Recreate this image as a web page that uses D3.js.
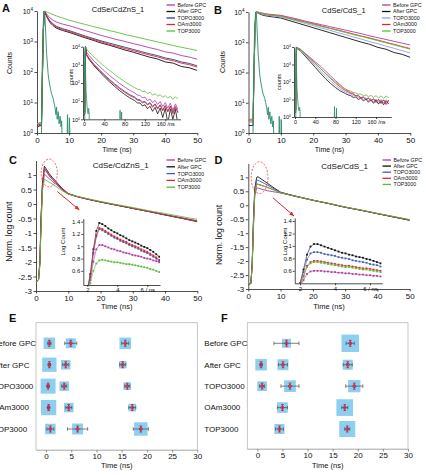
<!DOCTYPE html>
<html>
<head>
<meta charset="utf-8">
<script src="https://cdn.jsdelivr.net/npm/d3@7"></script>
<style>
  html, body { margin: 0; padding: 0; background: #fff; }
  svg { display: block; font-family: "Liberation Sans", Arial, Helvetica, sans-serif; }
</style>
</head>
<body>
<svg id="fig" width="426" height="475"></svg>
<script>
// ---- data (log10 counts for A/B, normalised log count for C/D) ----
const SERIES = ["Before GPC", "After GPC", "TOPO3000", "OAm3000", "TOP3000"];

// A: CdSe/CdZnS_1, main window (ns)
const T_A = [0, 1.4, 1.7, 2.0, 2.3, 3, 4, 5, 6, 8, 10, 12.5, 15, 17.5, 20, 22.5, 25, 27.5, 30, 32.5, 35, 37.5, 40, 42.5, 45, 47.5, 50];
const A_BEFORE = [0.3, 0.35, 2.0, 3.4, 4.0, 3.90, 3.78, 3.70, 3.64, 3.57, 3.52, 3.44, 3.36, 3.28, 3.20, 3.13, 3.06, 3.00, 2.93, 2.87, 2.80, 2.74, 2.66, 2.62, 2.54, 2.49, 2.42];
const A_AFTER  = [0.2, 0.25, 1.9, 3.4, 4.0, 3.82, 3.63, 3.52, 3.44, 3.36, 3.30, 3.21, 3.12, 3.04, 2.95, 2.88, 2.80, 2.72, 2.65, 2.57, 2.49, 2.43, 2.33, 2.29, 2.18, 2.14, 2.05];
const A_TOPO   = [0.25, 0.3, 1.9, 3.4, 4.0, 3.85, 3.68, 3.58, 3.50, 3.42, 3.36, 3.27, 3.18, 3.10, 3.02, 2.95, 2.88, 2.81, 2.74, 2.67, 2.60, 2.54, 2.46, 2.41, 2.33, 2.28, 2.20];
const A_OAM    = [0.2, 0.28, 1.9, 3.4, 4.0, 3.84, 3.66, 3.55, 3.47, 3.39, 3.33, 3.24, 3.15, 3.07, 2.99, 2.91, 2.84, 2.77, 2.70, 2.63, 2.56, 2.50, 2.42, 2.37, 2.29, 2.24, 2.16];
const A_TOP    = [0.3, 0.35, 2.0, 3.4, 4.0, 3.97, 3.93, 3.88, 3.84, 3.77, 3.70, 3.63, 3.56, 3.49, 3.43, 3.36, 3.30, 3.23, 3.17, 3.11, 3.05, 2.99, 2.93, 2.87, 2.81, 2.76, 2.70];
const T_IRF = [0, 1.3, 1.6, 1.9, 2.2, 2.5, 3.0, 3.5, 4.0, 4.5, 5.0, 5.3, 5.6, 5.9, 6.1, 6.3, 6.6, 6.9, 7.2, 7.5, 7.7, 7.9, 8.2, 9.3, 9.5, 9.7, 9.9, 10.1, 10.4, 10.7, 11];
const A_IRF = [-1, -1, 2.0, 3.5, 4.0, 3.8, 2.6, 1.9, 1.55, 1.3, 1.15, 1.0, 0.85, 0.6, 0.85, 0.45, 0.7, 0.3, 0.55, 0.2, 0.4, -0.5, -1, -1, 0.6, -0.5, -1, 0.5, -0.5, -1, -1];

// A inset (long window)
const T_AI = [0, 1.5, 2.5, 3, 5, 10, 20, 30, 40, 50, 60, 70, 80, 90, 100, 105, 110, 115, 120, 125, 130, 135, 140, 145, 150, 155, 160, 165, 170, 175, 180, 185];
const AI_BEFORE = [0.3, 0.4, 3.6, 4.0, 3.70, 3.52, 3.20, 2.93, 2.67, 2.42, 2.20, 1.98, 1.78, 1.60, 1.45, 1.33, 1.32, 1.18, 1.22, 1.03, 1.12, 0.92, 1.04, 0.82, 0.98, 0.70, 0.92, 0.62, 0.88, 0.50, 0.85, 0.55];
const AI_AFTER  = [0.2, 0.3, 3.6, 4.0, 3.52, 3.30, 2.94, 2.64, 2.34, 2.07, 1.82, 1.58, 1.37, 1.18, 1.03, 0.90, 0.90, 0.74, 0.80, 0.58, 0.72, 0.44, 0.66, 0.30, 0.62, 0.10, 0.60, -0.20, 0.56, 0.00, 0.55, -0.30];
const AI_TOPO   = [0.25, 0.35, 3.6, 4.0, 3.58, 3.36, 3.02, 2.74, 2.46, 2.20, 1.96, 1.74, 1.54, 1.36, 1.22, 1.10, 1.08, 0.95, 0.99, 0.82, 0.92, 0.72, 0.85, 0.62, 0.80, 0.52, 0.76, 0.45, 0.73, 0.38, 0.70, 0.40];
const AI_OAM    = [0.25, 0.35, 3.6, 4.0, 3.55, 3.33, 2.98, 2.69, 2.41, 2.15, 1.91, 1.69, 1.49, 1.31, 1.17, 1.05, 1.04, 0.90, 0.95, 0.78, 0.88, 0.66, 0.82, 0.56, 0.78, 0.46, 0.74, 0.40, 0.71, 0.30, 0.68, 0.35];
const AI_TOP    = [0.3, 0.4, 3.6, 4.0, 3.88, 3.70, 3.43, 3.17, 2.92, 2.70, 2.48, 2.27, 2.08, 1.90, 1.74, 1.66, 1.64, 1.53, 1.55, 1.42, 1.49, 1.33, 1.41, 1.27, 1.36, 1.21, 1.31, 1.16, 1.28, 1.10, 1.24, 1.12];
const T_AIRF = [0, 1.3, 1.9, 2.4, 3.0, 4.0, 5.0, 6.0, 7.0, 8.0, 9.0, 10.0, 11.0, 70, 71, 72, 73, 74, 75, 76];
const AI_IRF = [-1, -1, 3.5, 4.0, 2.6, 1.55, 1.15, 0.7, 0.5, 0.3, 0.6, 0.4, -1, -1, 0.5, -1, -1, 0.4, -1, -1];

// B: CdSe/CdS_1
const B_BEFORE = [0.45, 0.45, 2.0, 3.4, 4.0, 3.99, 3.97, 3.95, 3.93, 3.91, 3.89, 3.83, 3.77, 3.70, 3.64, 3.58, 3.52, 3.46, 3.40, 3.34, 3.28, 3.21, 3.15, 3.09, 3.03, 2.97, 2.91];
const B_AFTER  = [0.25, 0.25, 1.9, 3.4, 4.0, 3.96, 3.91, 3.88, 3.86, 3.83, 3.80, 3.72, 3.64, 3.56, 3.48, 3.40, 3.32, 3.24, 3.16, 3.08, 3.00, 2.93, 2.83, 2.77, 2.66, 2.60, 2.50];
const B_TOPO   = [0.35, 0.35, 1.9, 3.4, 4.0, 3.98, 3.94, 3.91, 3.89, 3.86, 3.84, 3.77, 3.70, 3.62, 3.55, 3.47, 3.40, 3.32, 3.25, 3.17, 3.10, 3.02, 2.95, 2.87, 2.80, 2.72, 2.64];
const B_OAM    = [0.4, 0.4, 2.0, 3.4, 4.0, 3.99, 3.96, 3.93, 3.91, 3.89, 3.87, 3.80, 3.74, 3.67, 3.61, 3.54, 3.47, 3.41, 3.34, 3.27, 3.20, 3.14, 3.07, 3.00, 2.93, 2.86, 2.79];
const B_TOP    = [0.45, 0.45, 2.0, 3.4, 4.0, 3.99, 3.96, 3.93, 3.91, 3.89, 3.86, 3.79, 3.72, 3.66, 3.59, 3.52, 3.46, 3.39, 3.32, 3.25, 3.19, 3.12, 3.05, 2.98, 2.91, 2.84, 2.77];
const B_IRF = [-1, -1, 2.0, 3.5, 4.0, 3.8, 2.6, 1.9, 1.55, 1.3, 1.15, 1.0, 0.85, 0.6, 0.85, 0.45, 0.7, 0.3, 0.55, 0.2, 0.4, -0.5, -1, -1, 0.55, -0.5, -1, 0.45, -0.5, -1, -1];
const BI_BEFORE = [0.45, 0.45, 3.6, 4.0, 3.95, 3.89, 3.64, 3.40, 3.15, 2.91, 2.64, 2.36, 2.08, 1.82, 1.55, 1.50, 1.38, 1.36, 1.22, 1.25, 1.08, 1.16, 0.98, 1.10, 0.90, 1.05, 0.82, 1.00, 0.76, 0.98, 0.70, 0.95];
const BI_AFTER  = [0.25, 0.25, 3.6, 4.0, 3.88, 3.80, 3.48, 3.16, 2.84, 2.51, 2.20, 1.92, 1.68, 1.48, 1.33, 1.26, 1.22, 1.12, 1.14, 1.00, 1.08, 0.92, 1.03, 0.84, 1.00, 0.78, 0.97, 0.74, 0.95, 0.70, 0.93, 0.75];
const BI_TOPO   = [0.35, 0.35, 3.6, 4.0, 3.91, 3.84, 3.55, 3.25, 2.95, 2.64, 2.34, 2.06, 1.81, 1.59, 1.42, 1.36, 1.30, 1.22, 1.20, 1.10, 1.14, 1.01, 1.09, 0.94, 1.06, 0.88, 1.03, 0.84, 1.01, 0.80, 1.00, 0.84];
const BI_OAM    = [0.4, 0.4, 3.6, 4.0, 3.93, 3.87, 3.61, 3.34, 3.07, 2.79, 2.50, 2.21, 1.94, 1.70, 1.50, 1.44, 1.35, 1.30, 1.22, 1.20, 1.10, 1.14, 1.00, 1.08, 0.92, 1.04, 0.86, 1.01, 0.80, 0.98, 0.76, 0.97];
const BI_TOP    = [0.45, 0.45, 3.6, 4.0, 3.93, 3.87, 3.60, 3.32, 3.05, 2.77, 2.50, 2.24, 2.00, 1.78, 1.60, 1.52, 1.48, 1.40, 1.38, 1.30, 1.31, 1.22, 1.26, 1.16, 1.24, 1.12, 1.22, 1.08, 1.21, 1.06, 1.20, 1.10];
const T_BIRF = [0, 1.3, 1.9, 2.4, 3.0, 4.0, 5.0, 6.0, 7.0, 8.0, 9.0, 10.0, 11.0, 77, 78, 79, 81, 82, 83];
const BI_IRF = [-1, -1, 3.5, 4.0, 2.6, 1.6, 1.1, 0.75, 0.45, 0.35, 0.55, 0.3, -1, -1, 0.6, -1, -1, 0.5, -1];

// C / D: normalised log count
const T_C = [0, 0.8, 1.2, 1.6, 2.0, 2.6, 3, 4, 5, 6, 8, 10, 12.5, 15, 17.5, 20, 25, 30, 35, 40, 45, 50];
const C_BEFORE = [-2.7, -2.6, -2.1, -0.6, 0.55, 1.02, 0.99, 0.88, 0.79, 0.70, 0.50, 0.34, 0.26, 0.19, 0.13, 0.07, -0.04, -0.15, -0.26, -0.37, -0.47, -0.58];
const C_AFTER  = [-2.7, -2.6, -2.0, -0.4, 0.70, 1.30, 1.24, 1.06, 0.92, 0.80, 0.55, 0.36, 0.27, 0.20, 0.13, 0.07, -0.04, -0.15, -0.26, -0.38, -0.49, -0.61];
const C_TOPO   = [-2.7, -2.6, -2.0, -0.45, 0.65, 1.20, 1.15, 0.99, 0.86, 0.75, 0.52, 0.35, 0.26, 0.19, 0.13, 0.07, -0.04, -0.15, -0.26, -0.37, -0.49, -0.60];
const C_OAM    = [-2.7, -2.6, -2.0, -0.45, 0.65, 1.22, 1.17, 1.00, 0.87, 0.76, 0.53, 0.35, 0.26, 0.19, 0.13, 0.07, -0.04, -0.15, -0.26, -0.37, -0.48, -0.59];
const C_TOP    = [-2.7, -2.6, -2.1, -0.7, 0.45, 0.85, 0.83, 0.76, 0.69, 0.62, 0.46, 0.34, 0.27, 0.21, 0.15, 0.09, -0.02, -0.12, -0.23, -0.33, -0.43, -0.53];
const T_CI = [2.0, 2.2, 2.4, 2.6, 2.8, 3.0, 3.2, 3.4, 3.6, 3.8, 4.0, 4.2, 4.4, 4.6, 4.8, 5.0, 5.2, 5.4, 5.6, 5.8, 6.0, 6.2, 6.4, 6.6, 6.8];
const CI_BEFORE = [0.25, 0.45, 0.75, 0.95, 1.02, 1.02, 1.00, 0.98, 0.96, 0.95, 0.93, 0.92, 0.90, 0.89, 0.88, 0.86, 0.85, 0.84, 0.83, 0.81, 0.80, 0.79, 0.77, 0.76, 0.74];
const CI_AFTER  = [0.30, 0.55, 0.95, 1.25, 1.38, 1.36, 1.33, 1.29, 1.26, 1.23, 1.21, 1.18, 1.16, 1.13, 1.10, 1.08, 1.06, 1.04, 1.01, 0.99, 0.97, 0.94, 0.91, 0.87, 0.83];
const CI_TOPO   = [0.27, 0.50, 0.88, 1.16, 1.28, 1.26, 1.23, 1.20, 1.17, 1.14, 1.12, 1.09, 1.07, 1.05, 1.02, 1.00, 0.98, 0.96, 0.93, 0.91, 0.89, 0.86, 0.83, 0.80, 0.76];
const CI_OAM    = [0.28, 0.52, 0.90, 1.18, 1.30, 1.28, 1.25, 1.22, 1.19, 1.16, 1.14, 1.11, 1.09, 1.07, 1.04, 1.02, 1.00, 0.98, 0.95, 0.93, 0.91, 0.88, 0.85, 0.82, 0.78];
const CI_TOP    = [0.22, 0.40, 0.60, 0.72, 0.77, 0.78, 0.77, 0.76, 0.75, 0.74, 0.74, 0.73, 0.72, 0.71, 0.71, 0.70, 0.69, 0.68, 0.67, 0.66, 0.65, 0.63, 0.62, 0.60, 0.58];

const D_BEFORE = [-2.85, -2.8, -2.2, -0.8, 0.35, 0.62, 0.62, 0.58, 0.55, 0.52, 0.48, 0.44, 0.38, 0.31, 0.25, 0.18, 0.06, -0.07, -0.18, -0.30, -0.41, -0.53];
const D_AFTER  = [-2.85, -2.8, -2.1, -0.5, 0.60, 1.00, 1.02, 0.94, 0.86, 0.78, 0.62, 0.47, 0.39, 0.32, 0.25, 0.18, 0.06, -0.07, -0.18, -0.30, -0.42, -0.54];
const D_TOPO   = [-2.85, -2.8, -2.1, -0.6, 0.50, 0.89, 0.90, 0.84, 0.78, 0.72, 0.59, 0.46, 0.38, 0.31, 0.25, 0.18, 0.06, -0.07, -0.18, -0.30, -0.42, -0.53];
const D_OAM    = [-2.85, -2.8, -2.15, -0.7, 0.42, 0.76, 0.76, 0.72, 0.68, 0.64, 0.55, 0.45, 0.38, 0.31, 0.24, 0.18, 0.06, -0.07, -0.18, -0.30, -0.41, -0.53];
const D_TOP    = [-2.85, -2.8, -2.15, -0.7, 0.42, 0.74, 0.74, 0.71, 0.67, 0.63, 0.54, 0.45, 0.38, 0.31, 0.25, 0.18, 0.07, -0.06, -0.17, -0.29, -0.40, -0.51];
const T_DI = [2.0, 2.2, 2.4, 2.6, 2.8, 3.0, 3.2, 3.4, 3.6, 3.8, 4.0, 4.2, 4.4, 4.6, 4.8, 5.0, 5.2, 5.4, 5.6, 5.8, 6.0, 6.2, 6.4, 6.6];
const DI_BEFORE = [0.33, 0.45, 0.55, 0.59, 0.60, 0.60, 0.60, 0.59, 0.59, 0.58, 0.58, 0.57, 0.57, 0.56, 0.56, 0.55, 0.55, 0.54, 0.54, 0.53, 0.53, 0.52, 0.52, 0.51];
const DI_AFTER  = [0.40, 0.62, 0.86, 0.99, 1.03, 1.03, 1.01, 0.99, 0.97, 0.95, 0.93, 0.91, 0.89, 0.88, 0.86, 0.85, 0.83, 0.82, 0.81, 0.79, 0.78, 0.76, 0.74, 0.72];
const DI_TOPO   = [0.38, 0.58, 0.78, 0.88, 0.90, 0.90, 0.89, 0.87, 0.86, 0.85, 0.84, 0.82, 0.81, 0.80, 0.79, 0.77, 0.76, 0.75, 0.74, 0.73, 0.71, 0.70, 0.69, 0.67];
const DI_OAM    = [0.36, 0.52, 0.68, 0.74, 0.76, 0.76, 0.75, 0.74, 0.73, 0.72, 0.71, 0.70, 0.69, 0.68, 0.68, 0.67, 0.66, 0.65, 0.64, 0.64, 0.63, 0.62, 0.61, 0.60];
const DI_TOP    = [0.35, 0.50, 0.66, 0.72, 0.74, 0.74, 0.73, 0.72, 0.71, 0.70, 0.69, 0.68, 0.67, 0.66, 0.66, 0.65, 0.64, 0.63, 0.62, 0.62, 0.61, 0.60, 0.59, 0.58];

// E / F: lifetime components (ns), error half-widths, relative amplitude (box size)
const E_TAU = [[0.65, 4.9, 15.7], [0.65, 3.9, 15.2], [0.4, 3.6, 16.1], [0.5, 4.5, 17.1], [0.85, 6.25, 18.8]];
const E_ERR = [[0.3, 1.2, 0.7], [0.2, 0.6, 0.6], [0.2, 0.5, 0.5], [0.2, 0.6, 0.7], [0.7, 2.0, 1.5]];
const E_AMP = [[41, 31, 41], [63, 28, 17], [69, 28, 18], [72, 28, 18], [34, 37, 56]];
const F_TAU = [[null, 5.8, 18.5], [0.75, 5.1, 18.0], [0.95, 6.5, 19.3], [null, 5.0, 17.4], [null, 4.4, 17.9]];
const F_ERR = [[null, 2.5, 0.8], [0.2, 0.9, 0.9], [0.5, 1.8, 1.7], [null, 1.0, 0.6], [null, 0.8, 0.5]];
const F_AMP = [[null, 25, 94], [41, 37, 31], [29, 42, 47], [null, 35, 86], [null, 31, 79]];

// ticks
const TICKS_T = [0, 10, 20, 30, 40, 50];
const TICKS_LOG = [1, 10, 100, 1000, 10000];
const TICKS_INSET_T = [0, 40, 80, 120, 160];
const TICKS_NORM = [-3, -2.5, -2, -1.5, -1, -0.5, 0, 0.5, 1];
const TICKS_ZOOM_T = [2, 4, 6];
const TICKS_ZOOM_Y = [0.6, 0.8, 1, 1.2, 1.4];
const TICKS_LT = [0, 5, 10, 15, 20, 25, 30];

const COLORS_A = ["#b23aa8", "#111111", "#2b3d8f", "#e3252e", "#5cbf3a"];
const COLORS_B = ["#b23aa8", "#111111", "#8e9ee8", "#e3252e", "#5cbf3a"];
const COLORS_CD = ["#b23aa8", "#111111", "#3f5db3", "#e3252e", "#5cbf3a"];
const IRF_COLOR = "#2a8c6c";

// ---- drawing ----
const svg = d3.select("#fig");
const defs = svg.append("defs");
const lg = v => Math.pow(10, v);
const id = v => v;
const plain = d => String(d);

defs.append("marker").attr("id", "arr").attr("viewBox", "0 0 10 10")
  .attr("refX", 9).attr("refY", 5).attr("markerWidth", 5).attr("markerHeight", 5)
  .attr("orient", "auto")
  .append("path").attr("d", "M0,1 L10,5 L0,9 z").attr("fill", "#e0262e");

function clip(name, x, y) {
  const [x0, x1] = x.range();
  const [y1, y0] = y.range();
  defs.append("clipPath").attr("id", name).append("rect")
    .attr("x", x0).attr("y", y0 - 4).attr("width", x1 - x0).attr("height", y1 - y0 + 4);
}

function styleAxis(g, fs) {
  g.attr("font-family", null).attr("font-size", null);
  g.select("path.domain").attr("stroke", "#222").attr("stroke-width", 0.8);
  g.selectAll(".tick line").attr("stroke", "#222").attr("stroke-width", 0.8);
  g.selectAll(".tick text").attr("font-size", fs).attr("fill", "#111");
}

function supLabels(g) {
  g.selectAll(".tick text").each(function (d) {
    const t = d3.select(this);
    t.text(null);
    t.append("tspan").text("10");
    t.append("tspan").attr("dy", "-0.55em").attr("font-size", "0.65em").text(Math.round(Math.log10(d)));
  });
}

function axes(g, x, y, o) {
  const gx = g.append("g").attr("transform", `translate(0,${y.range()[0]})`)
    .call(d3.axisBottom(x).tickValues(o.xTicks).tickSizeInner(o.tk).tickSizeOuter(0)
      .tickPadding(o.pad).tickFormat(o.xFmt || plain));
  const gy = g.append("g").attr("transform", `translate(${x.range()[0]},0)`)
    .call(d3.axisLeft(y).tickValues(o.yTicks).tickSizeInner(o.tk).tickSizeOuter(0)
      .tickPadding(o.pad).tickFormat(o.yFmt || plain));
  styleAxis(gx, o.fsX);
  styleAxis(gy, o.fsY);
  if (o.log) supLabels(gy);
}

function curves(g, x, y, clipId, list, f) {
  const line = d3.line().x(d => x(d[0])).y(d => y(f(d[1])));
  list.forEach(s => {
    g.append("path").attr("clip-path", `url(#${clipId})`)
      .datum(s.t.map((t, i) => [t, s.v[i]]))
      .attr("d", line).attr("fill", "none").attr("stroke", s.c)
      .attr("stroke-width", s.w || 0.9).attr("stroke-linejoin", "round");
    if (s.m) {
      g.append("g").attr("clip-path", `url(#${clipId})`).selectAll("rect")
        .data(s.t.map((t, i) => [t, s.v[i]])).join("rect")
        .attr("x", d => x(d[0]) - 0.9).attr("y", d => y(f(d[1])) - 0.9)
        .attr("width", 1.8).attr("height", 1.8).attr("fill", s.c);
    }
  });
}

function text(x, y, str, o = {}) {
  const t = svg.append("text").attr("x", x).attr("y", y).attr("font-size", o.fs || 7)
    .attr("text-anchor", o.anchor || "start").attr("fill", "#111").text(str);
  if (o.bold) t.attr("font-weight", "bold");
  if (o.rot) t.attr("transform", `rotate(-90,${x},${y})`);
  return t;
}

function legend(x, y0, dy, colors, fs) {
  SERIES.forEach((name, i) => {
    const y = y0 + i * dy;
    svg.append("line").attr("x1", x).attr("x2", x + 8.5).attr("y1", y).attr("y2", y)
      .attr("stroke", colors[i]).attr("stroke-width", 1.3);
    text(x + 11, y + fs * 0.36, name, { fs });
  });
}

const pack = (t, vals, colors, extra = {}) => vals.map((v, i) => Object.assign({ t, v, c: colors[i] }, extra));
const fmtInsetT = d => d === 160 ? "160 /ns" : String(d);
const fmtZoomT = d => d === 6 ? "6 / ns" : String(d);

// ===== A =====
{
  const g = svg.append("g");
  const x = d3.scaleLinear().domain([0, 50]).range([37, 197.3]);
  const y = d3.scaleLog().domain([1, 1e4]).range([133, 11]);
  clip("clipA", x, y);
  axes(g, x, y, { xTicks: TICKS_T, yTicks: TICKS_LOG, tk: 2.5, pad: 1.5, fsX: 8, fsY: 7, log: true });
  curves(g, x, y, "clipA", pack(T_A, [A_BEFORE, A_AFTER, A_TOPO, A_OAM, A_TOP], COLORS_A), lg);
  curves(g, x, y, "clipA", [{ t: T_IRF, v: A_IRF, c: IRF_COLOR }], lg);

  const xi = d3.scaleLinear().domain([-2, 190]).range([83, 180.5]);
  const yi = d3.scaleLog().domain([1, 1e4]).range([119.3, 46.7]);
  clip("clipAI", xi, yi);
  axes(g, xi, yi, { xTicks: TICKS_INSET_T, yTicks: TICKS_LOG, tk: 2, pad: 1, fsX: 5.5, fsY: 5.5, log: true, xFmt: fmtInsetT });
  curves(g, xi, yi, "clipAI", pack(T_AI, [AI_BEFORE, AI_AFTER, AI_TOPO, AI_OAM, AI_TOP], COLORS_A, { w: 0.8 }), lg);
  curves(g, xi, yi, "clipAI", [{ t: T_AIRF, v: AI_IRF, c: IRF_COLOR, w: 0.8 }], lg);

  text(2, 11.5, "A", { fs: 11, bold: true });
  text(118, 12.3, "CdSe/CdZnS_1", { fs: 7.5, anchor: "middle" });
  text(12, 63, "Counts", { fs: 7, anchor: "middle", rot: true });
  text(72.5, 77, "counts", { fs: 5.5, anchor: "middle", rot: true });
  text(117, 152, "Time (ns)", { fs: 7, anchor: "middle" });
  legend(166.5, 5, 6.5, COLORS_A, 5.3);
}

// ===== B =====
{
  const g = svg.append("g");
  const x = d3.scaleLinear().domain([0, 50]).range([248.5, 410.3]);
  const y = d3.scaleLog().domain([1, 1e4]).range([133, 12]);
  clip("clipB", x, y);
  axes(g, x, y, { xTicks: TICKS_T, yTicks: TICKS_LOG, tk: 2.5, pad: 1.5, fsX: 8, fsY: 7, log: true });
  curves(g, x, y, "clipB", pack(T_A, [B_BEFORE, B_AFTER, B_TOPO, B_OAM, B_TOP], COLORS_B), lg);
  curves(g, x, y, "clipB", [{ t: T_IRF, v: B_IRF, c: IRF_COLOR }], lg);

  const xi = d3.scaleLinear().domain([-2, 190]).range([294, 391.2]);
  const yi = d3.scaleLog().domain([1, 1e4]).range([117, 47]);
  clip("clipBI", xi, yi);
  axes(g, xi, yi, { xTicks: TICKS_INSET_T, yTicks: TICKS_LOG, tk: 2, pad: 1, fsX: 5.5, fsY: 5.5, log: true, xFmt: fmtInsetT });
  curves(g, xi, yi, "clipBI", pack(T_AI, [BI_BEFORE, BI_AFTER, BI_TOPO, BI_OAM, BI_TOP], COLORS_B, { w: 0.8 }), lg);
  curves(g, xi, yi, "clipBI", [{ t: T_BIRF, v: BI_IRF, c: IRF_COLOR, w: 0.8 }], lg);

  text(214, 14, "B", { fs: 11, bold: true });
  text(343.7, 12.7, "CdSe/CdS_1", { fs: 7.5, anchor: "middle" });
  text(224.7, 62, "Counts", { fs: 7, anchor: "middle", rot: true });
  text(281, 82, "counts", { fs: 5.5, anchor: "middle", rot: true });
  text(329.5, 152, "Time (ns)", { fs: 7, anchor: "middle" });
  legend(382, 5, 6.5, COLORS_B, 5.3);
}

// ===== C / D (normalised) =====
function normPanel(o) {
  const g = svg.append("g");
  const x = d3.scaleLinear().domain([0, 50]).range(o.xr);
  const y = d3.scaleLinear().domain([-3, 1.5]).range(o.yr);
  clip(o.id, x, y);
  axes(g, x, y, { xTicks: TICKS_T, yTicks: TICKS_NORM, tk: 2.5, pad: 1.5, fsX: 8, fsY: 8 });
  curves(g, x, y, o.id, pack(T_C, o.main, COLORS_CD), id);

  // highlight ellipse + arrow
  g.append("ellipse")
    .attr("cx", x(o.ell[0])).attr("cy", y(o.ell[1]))
    .attr("rx", x(o.ell[0] + o.ell[2]) - x(o.ell[0])).attr("ry", y(o.ell[1] - o.ell[3]) - y(o.ell[1]))
    .attr("fill", "none").attr("stroke", "#e0262e").attr("stroke-width", 0.7).attr("stroke-dasharray", "2,1.5");
  g.append("line")
    .attr("x1", x(o.arr[0])).attr("y1", y(o.arr[1])).attr("x2", x(o.arr[2])).attr("y2", y(o.arr[3]))
    .attr("stroke", "#e0262e").attr("stroke-width", 1).attr("marker-end", "url(#arr)");

  const xi = d3.scaleLinear().domain(o.xid).range(o.xir);
  const yi = d3.scaleLinear().domain(o.yid).range(o.yir);
  clip(o.id + "i", xi, yi);
  axes(g, xi, yi, { xTicks: TICKS_ZOOM_T, yTicks: TICKS_ZOOM_Y, tk: 2, pad: 1, fsX: 6, fsY: 6, xFmt: fmtZoomT });
  curves(g, xi, yi, o.id + "i", pack(o.ti, o.inset, COLORS_CD, { w: 0.6, m: true }), id);
}

normPanel({
  id: "clipC", xr: [36, 197.3], yr: [291, 160.5], main: [C_BEFORE, C_AFTER, C_TOPO, C_OAM, C_TOP],
  ell: [4.1, 1.07, 2.5, 0.48], arr: [6.6, 0.43, 13.4, -0.2],
  xid: [1.73, 6.85], xir: [83.3, 160], yid: [0.37, 1.45], yir: [285, 218.6],
  ti: T_CI, inset: [CI_BEFORE, CI_AFTER, CI_TOPO, CI_OAM, CI_TOP]
});
text(9, 164, "C", { fs: 11, bold: true });
text(120.8, 168, "CdSe/CdZnS_1", { fs: 8, anchor: "middle" });
text(12, 231.7, "Norm. log count", { fs: 8.5, anchor: "middle", rot: true });
text(65, 241.7, "Log Count", { fs: 6, anchor: "middle", rot: true });
text(116.7, 309, "Time (ns)", { fs: 7.5, anchor: "middle" });
legend(166.5, 160, 6.8, COLORS_CD, 5.3);

normPanel({
  id: "clipD", xr: [248.3, 409.7], yr: [289, 163.4], main: [D_BEFORE, D_AFTER, D_TOPO, D_OAM, D_TOP],
  ell: [3.5, 0.99, 2.6, 0.57], arr: [7.6, 0.27, 14.1, -0.38],
  xid: [1.7, 6.7], xir: [294.75, 382.25], yid: [0.4, 1.45], yir: [283.3, 217.9],
  ti: T_DI, inset: [DI_BEFORE, DI_AFTER, DI_TOPO, DI_OAM, DI_TOP]
});
text(214.5, 164, "D", { fs: 11, bold: true });
text(344.7, 169, "CdSe/CdS_1", { fs: 8, anchor: "middle" });
text(222.3, 235, "Norm. log count", { fs: 8.5, anchor: "middle", rot: true });
text(287, 241.7, "Log Count", { fs: 6, anchor: "middle", rot: true });
text(329, 309, "Time (ns)", { fs: 7.5, anchor: "middle" });
legend(382.5, 160, 6.1, COLORS_CD, 5.3);

// ===== E / F (lifetime components) =====
function lifetimePanel(o) {
  const g = svg.append("g");
  const x = d3.scaleLinear().domain([-2, 30]).range([o.left, o.right]);
  const y = d3.scalePoint().domain(SERIES).range([343.3, 429]);
  const side = d3.scaleSqrt().domain([0, 100]).range([0, 18]);

  g.append("rect").attr("x", o.left).attr("y", o.top).attr("width", o.right - o.left)
    .attr("height", o.bottom - o.top).attr("fill", "none").attr("stroke", "#b8b8b8").attr("stroke-width", 0.8);
  const gx = g.append("g").attr("transform", `translate(0,${o.bottom})`)
    .call(d3.axisBottom(x).tickValues(TICKS_LT).tickSizeInner(2.5).tickSizeOuter(0).tickPadding(1).tickFormat(plain));
  styleAxis(gx, 8);
  gx.select("path.domain").attr("stroke", "#b8b8b8");
  gx.selectAll(".tick line").attr("stroke", "#777");

  SERIES.forEach((name, i) => {
    g.append("text").attr("x", o.left - 43).attr("y", y(name)).attr("dy", "0.35em")
      .attr("font-size", 8).attr("fill", "#111").text(name);
  });

  const comps = [];
  o.tau.forEach((row, i) => row.forEach((tau, j) => {
    if (tau != null) comps.push({ y: y(SERIES[i]), tau, err: o.err[i][j], amp: o.amp[i][j] });
  }));

  g.selectAll("rect.box").data(comps).join("rect").attr("class", "box")
    .attr("x", d => x(d.tau) - side(d.amp) / 2).attr("y", d => d.y - side(d.amp) / 2)
    .attr("width", d => side(d.amp)).attr("height", d => side(d.amp)).attr("fill", "#8ccff0");

  const wh = g.selectAll("g.wh").data(comps).join("g").attr("class", "wh")
    .attr("stroke", "#4a4a4a").attr("stroke-width", 0.7);
  wh.append("line").attr("x1", d => x(d.tau - d.err)).attr("x2", d => x(d.tau + d.err))
    .attr("y1", d => d.y).attr("y2", d => d.y);
  wh.append("line").attr("x1", d => x(d.tau - d.err)).attr("x2", d => x(d.tau - d.err))
    .attr("y1", d => d.y - 1.8).attr("y2", d => d.y + 1.8);
  wh.append("line").attr("x1", d => x(d.tau + d.err)).attr("x2", d => x(d.tau + d.err))
    .attr("y1", d => d.y - 1.8).attr("y2", d => d.y + 1.8);

  const mk = g.selectAll("g.mk").data(comps).join("g").attr("class", "mk")
    .attr("stroke", "#c8152e").attr("stroke-width", 0.8).attr("fill", "none");
  mk.append("line").attr("x1", d => x(d.tau)).attr("x2", d => x(d.tau)).attr("y1", d => d.y - 3).attr("y2", d => d.y + 3);
  mk.append("line").attr("x1", d => x(d.tau) - 1.3).attr("x2", d => x(d.tau) + 1.3).attr("y1", d => d.y - 3).attr("y2", d => d.y - 3);
  mk.append("line").attr("x1", d => x(d.tau) - 1.3).attr("x2", d => x(d.tau) + 1.3).attr("y1", d => d.y + 3).attr("y2", d => d.y + 3);
  mk.append("circle").attr("cx", d => x(d.tau)).attr("cy", d => d.y).attr("r", 1.5);
}

lifetimePanel({ left: 36, right: 197.3, top: 322.7, bottom: 450, tau: E_TAU, err: E_ERR, amp: E_AMP });
text(9, 321.5, "E", { fs: 11, bold: true });
text(116.7, 468, "Time (ns)", { fs: 7.5, anchor: "middle" });

lifetimePanel({ left: 247.3, right: 408, top: 322.7, bottom: 449, tau: F_TAU, err: F_ERR, amp: F_AMP });
text(221, 321.5, "F", { fs: 11, bold: true });
text(327.7, 467.5, "Time (ns)", { fs: 7.5, anchor: "middle" });
</script>
</body>
</html>
